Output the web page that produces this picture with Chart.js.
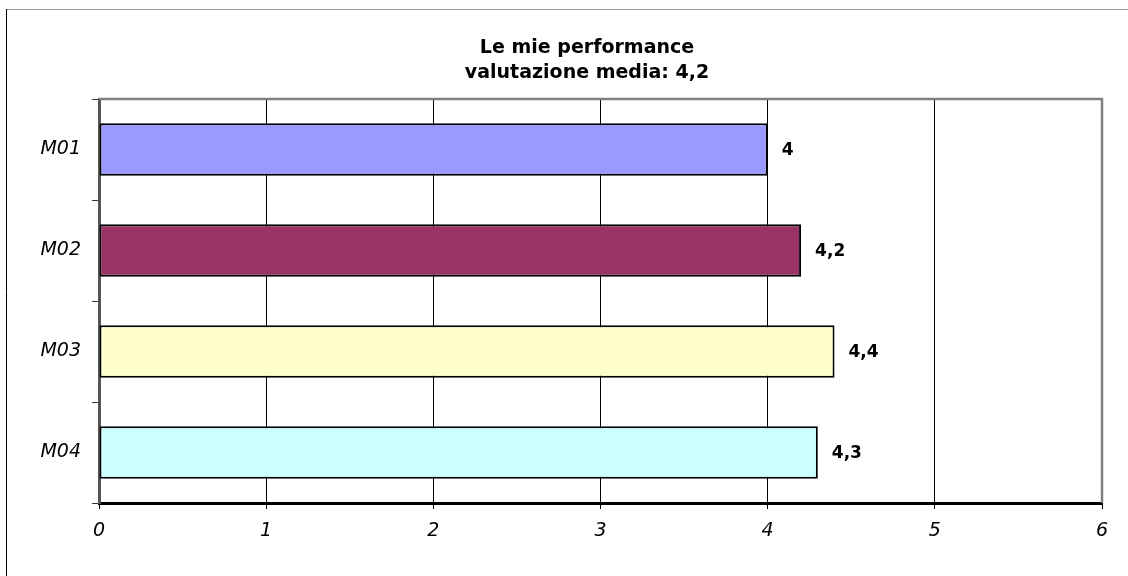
<!DOCTYPE html>
<html>
<head>
<meta charset="utf-8">
<script src="https://cdn.jsdelivr.net/npm/chart.js@4/dist/chart.umd.min.js"></script>
<style>
  html, body { margin: 0; padding: 0; background: #fff; }
  #wrap { width: 1128px; height: 576px; }
</style>
</head>
<body>
<div id="wrap"><canvas id="chart" width="1128" height="576"></canvas></div>
<script>
const TITLE     = ['Le mie performance', 'valutazione media: 4,2']
const MODULES   = ['M01', 'M02', 'M03', 'M04']
const SCORES    = [4, 4.2, 4.4, 4.3]
const COLORS    = ['#9999ff', '#993366', '#ffffcc', '#ccffff']
const X_MAX     = 6

const FONT = '"DejaVu Sans", Verdana, sans-serif'
const TITLE_X = 587   // title is centred on the whole sheet, not the plot

// white page, thin outer frame (top + left) and the two-line title
const framePlugin = {
  id: 'frame',
  beforeDraw(chart) {
    const { ctx, width, height } = chart
    ctx.save()
    ctx.fillStyle = '#fff'
    ctx.fillRect(0, 0, width, height)
    ctx.lineWidth = 1
    ctx.strokeStyle = '#999'
    ctx.beginPath(); ctx.moveTo(6, 9.5); ctx.lineTo(width, 9.5); ctx.stroke()
    ctx.strokeStyle = '#000'
    ctx.beginPath(); ctx.moveTo(6.5, 9); ctx.lineTo(6.5, height); ctx.stroke()

    ctx.fillStyle = '#000'
    ctx.font = 'bold 19px ' + FONT
    ctx.textAlign = 'center'
    ctx.textBaseline = 'middle'
    TITLE.forEach((line, i) => ctx.fillText(line, TITLE_X, 48 + i * 25))
    ctx.restore()
  },
  afterDraw(chart) {
    const { ctx, chartArea: a } = chart
    ctx.save()
    ctx.strokeStyle = '#808080'
    ctx.lineWidth = 2.5
    ctx.beginPath()
    ctx.moveTo(a.left, a.top)
    ctx.lineTo(a.right, a.top)
    ctx.lineTo(a.right, a.bottom)
    ctx.stroke()
    ctx.restore()
  }
}

// value printed to the right of each bar, Italian decimal comma
const valueLabels = {
  id: 'valueLabels',
  afterDatasetsDraw(chart) {
    const { ctx } = chart
    const meta = chart.getDatasetMeta(0)
    ctx.save()
    ctx.font = 'bold 17px ' + FONT
    ctx.fillStyle = '#000'
    ctx.textAlign = 'left'
    ctx.textBaseline = 'middle'
    meta.data.forEach((bar, i) => {
      const txt = SCORES[i].toLocaleString('it-IT')
      ctx.fillText(txt, bar.x + 14, bar.y + 1)
    })
    ctx.restore()
  }
}

new Chart(document.getElementById('chart'), {
  type: 'bar',
  data: {
    labels: MODULES,
    datasets: [{
      data: SCORES,
      backgroundColor: COLORS,
      borderColor: '#000',
      borderWidth: 2,
      borderSkipped: false,
      barPercentage: 0.52,
      categoryPercentage: 1
    }]
  },
  options: {
    indexAxis: 'y',
    responsive: false,
    animation: false,
    layout: { padding: { left: 0, right: 26, top: 99, bottom: 0 } },
    plugins: {
      legend: { display: false },
      tooltip: { enabled: false },
      title: { display: false }
    },
    scales: {
      x: {
        min: 0,
        max: X_MAX,
        afterFit: s => { s.height = 73 },
        border: { display: true, color: '#000', width: 3 },
        grid: { color: '#000', lineWidth: 1, drawTicks: true, tickLength: 6, tickColor: '#000' },
        ticks: {
          stepSize: 1,
          padding: 11,
          color: '#000',
          font: { family: FONT, size: 19, style: 'italic' }
        }
      },
      y: {
        afterFit: s => { s.width = 99 },
        border: { display: true, color: '#555', width: 3 },
        grid: { drawOnChartArea: false, drawTicks: true, tickLength: 7, tickColor: '#333', lineWidth: 1 },
        ticks: {
          padding: 11,
          color: '#000',
          font: { family: FONT, size: 19, style: 'italic' }
        }
      }
    }
  },
  plugins: [framePlugin, valueLabels]
})
</script>
</body>
</html>
